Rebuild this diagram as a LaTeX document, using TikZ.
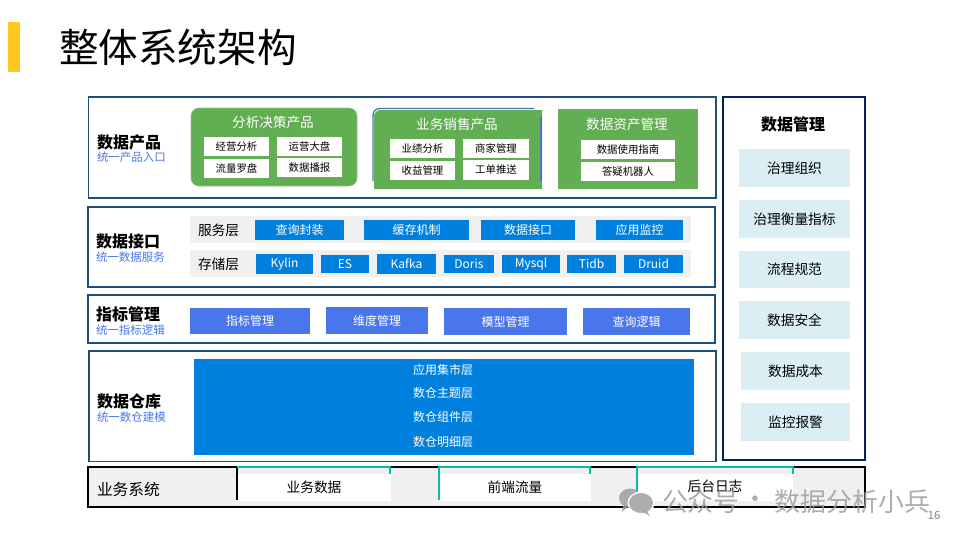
\documentclass[tikz,border=0pt]{standalone}
\usepackage{fontspec}
\setmainfont{Noto Sans CJK SC}
\definecolor{frameblue}{HTML}{1F4E79}
\definecolor{framenavy}{HTML}{002060}
\definecolor{panelgreen}{HTML}{62AE52}
\definecolor{cellblue}{HTML}{0080DE}
\definecolor{idxblue}{HTML}{4A76EC}
\definecolor{edgeblue}{HTML}{4A76B8}
\definecolor{lightcyan}{HTML}{DAEEF3}
\definecolor{rowgray}{HTML}{F0F0F0}
\definecolor{teal}{HTML}{00BFA5}
\definecolor{accent}{HTML}{FFC81E}
\newcommand{\bx}[7]{\node[#6,minimum width={(#4-#2)*0.75pt},minimum height={(#5-#3)*0.75pt}] (#1) at ({(#2+#4)/2},{(#3+#5)/2}) {#7};}
\newcommand{\dn}[1]{\raisebox{-0.7pt}{#1}}
\tikzset{
  base/.style={inner sep=0pt,outer sep=0pt},
  frame/.style={base,draw=frameblue,line width=1.2pt,fill=white},
  navyframe/.style={base,draw=framenavy,line width=1.2pt,fill=white},
  blackframe/.style={base,draw=black,line width=1.4pt,fill=rowgray},
  panel/.style={base,fill=panelgreen,text=white,font=\fontsize{10}{12}\selectfont},
  paneltitle/.style={base,text=white,font=\fontsize{10.2}{12}\selectfont},
  whitecell/.style={base,fill=white,font=\fontsize{7.8}{10}\selectfont},
  rowbar/.style={base,fill=rowgray},
  bluecell/.style={base,fill=cellblue,text=white,font=\fontsize{9}{11}\selectfont},
  idxcell/.style={base,fill=idxblue,text=white,font=\fontsize{9}{11}\selectfont},
  warebox/.style={base,fill=cellblue},
  waretext/.style={base,text=white,font=\fontsize{9}{11}\selectfont},
  mgmt/.style={base,fill=lightcyan,font=\fontsize{10.3}{12}\selectfont},
  srccell/.style={base,fill=white,font=\fontsize{10.3}{12}\selectfont},
  headline/.style={base,anchor=west,font=\fontsize{12}{14}\selectfont\bfseries},
  subline/.style={base,anchor=west,text=idxblue,font=\fontsize{8.6}{10}\selectfont},
  rowlabel/.style={base,anchor=west,font=\fontsize{10.3}{12}\selectfont},
  tealline/.style={draw=teal,line width=1pt},
  darkline/.style={draw=black,line width=1.1pt},
  watermark/.style={base,text=gray!75,opacity=.85,font=\fontsize{19.4}{22}\selectfont},
}
\begin{document}
\begin{tikzpicture}[x=0.75pt,y=-0.75pt]
\useasboundingbox[fill=white] (0,0) rectangle (960,540);
% title
\fill[accent] (8,22) rectangle (20,72);
\node[base,anchor=west,font=\fontsize{29.7}{34}\selectfont] (title) at (59,47) {整体系统架构};
% frames
\bx{fp}{88.5}{97}{716}{198}{frame}{}
\bx{fi}{88}{207}{715}{287}{frame}{}
\bx{fm}{88}{295}{715}{343}{frame}{}
\bx{fw}{89}{351}{716}{461.5}{frame}{}
\bx{fr}{723}{97}{865}{460}{navyframe}{}
% left labels
\node[headline] (l1) at (97,142) {数据产品};
\node[subline] (s1) at (97,157) {统一产品入口};
\node[headline] (l2) at (96,241) {数据接口};
\node[subline] (s2) at (96,257) {统一数据服务};
\node[headline] (l3) at (96,314) {指标管理};
\node[subline] (s3) at (96,330) {统一指标逻辑};
\node[headline] (l4) at (97,401) {数据仓库};
\node[subline] (s4) at (97,417) {统一数仓建模};
% panel 1
\node[base,fill=panelgreen,draw=panelgreen!70!white,line width=0.5pt,rounded corners=6pt,minimum width=124.5pt,minimum height=58.5pt] (p1) at (274,147) {};
\node[paneltitle] (p1t) at (273,122) {分析决策产品};
\bx{c11}{204}{137}{269}{156}{whitecell}{经营分析}
\bx{c12}{277}{137}{342}{156}{whitecell}{运营大盘}
\bx{c13}{204}{159}{269}{178}{whitecell}{流量罗盘}
\bx{c14}{277}{158}{342}{177}{whitecell}{数据播报}
% panel 2
\fill[panelgreen] (542,189) -- (374,189) [rounded corners=5pt] -- (374,110) [sharp corners] -- (542,110) -- cycle;
\draw[edgeblue,line width=1pt,rounded corners=5pt] (373,181) -- (373,108.5) -- (534,108.5);
\draw[edgeblue,line width=1pt] (541,117) -- (541,181);
\node[paneltitle] (p2t) at (457,124) {业务销售产品};
\bx{c21}{390}{139}{455}{158}{whitecell}{业绩分析}
\bx{c22}{463}{139}{529}{158}{whitecell}{商家管理}
\bx{c23}{390}{161}{455}{180}{whitecell}{收益管理}
\bx{c24}{463}{160}{529}{180}{whitecell}{工单推送}
% panel 3
\bx{p3}{558}{109}{698}{189}{panel}{}
\node[paneltitle] (p3t) at (627,124) {数据资产管理};
\bx{c31}{581}{140}{675}{159}{whitecell}{数据使用指南}
\bx{c32}{581}{162}{675}{181}{whitecell}{答疑机器人}
% interface rows
\bx{r1}{190}{216}{691}{243}{rowbar}{}
\bx{r2}{190}{250}{691}{277}{rowbar}{}
\node[rowlabel] (r1t) at (198,230) {服务层};
\node[rowlabel] (r2t) at (198,264) {存储层};
\bx{a1}{255}{220}{344}{240}{bluecell}{查询封装}
\bx{a2}{364}{220}{469}{240}{bluecell}{缓存机制}
\bx{a3}{481}{220}{575}{240}{bluecell}{数据接口}
\bx{a4}{596}{220}{683}{240}{bluecell}{应用监控}
\bx{b1}{256}{254}{313}{274}{bluecell}{Kylin}
\bx{b2}{321}{255}{369}{273}{bluecell}{ES}
\bx{b3}{377}{254}{436}{274}{bluecell}{Kafka}
\bx{b4}{444}{255}{494}{273}{bluecell}{Doris}
\bx{b5}{502}{255}{560}{273}{bluecell}{Mysql}
\bx{b6}{567}{255}{616}{273}{bluecell}{Tidb}
\bx{b7}{624}{255}{683}{273}{bluecell}{Druid}
% metric cells
\bx{m1}{190}{308}{310}{334}{idxcell}{\dn{指标管理}}
\bx{m2}{326}{307}{428}{334}{idxcell}{维度管理}
\bx{m3}{444}{308}{567}{335}{idxcell}{模型管理}
\bx{m4}{583}{308}{690}{335}{idxcell}{查询逻辑}
% warehouse
\bx{w0}{194}{359}{694}{455}{warebox}{}
\node[waretext] (w1) at (443,369.5) {应用集市层};
\node[waretext] (w2) at (443,393) {数仓主题层};
\node[waretext] (w3) at (443,417) {数仓组件层};
\node[waretext] (w4) at (443,441.5) {数仓明细层};
% governance
\node[base,font=\fontsize{12}{14}\selectfont\bfseries] (gt) at (793,124) {数据管理};
\bx{g1}{739}{149}{850}{187}{mgmt}{\dn{治理组织}}
\bx{g2}{739}{200}{850}{238}{mgmt}{\dn{治理衡量指标}}
\bx{g3}{739}{251}{850}{288}{mgmt}{\dn{流程规范}}
\bx{g4}{739}{301}{850}{339}{mgmt}{\dn{数据安全}}
\bx{g5}{741}{352}{850}{390}{mgmt}{\dn{数据成本}}
\bx{g6}{741}{403}{850}{441}{mgmt}{\dn{监控报警}}
% source systems
\bx{fs}{88}{467}{865}{507}{blackframe}{}
\node[base,anchor=west,font=\fontsize{11.8}{14}\selectfont] (st) at (97,489.5) {业务系统};
\bx{e1}{237}{474}{391}{501}{srccell}{业务数据}
\bx{e2}{439}{474}{591}{501}{srccell}{前端流量}
\bx{e3}{637}{474}{793}{501}{srccell}{}
\node[base,font=\fontsize{10.3}{12}\selectfont] (e3t) at (715,486.5) {后台日志};
\draw[darkline] (237,467) -- (237,500);
\draw[tealline] (237,467) -- (390,467) -- (390,474);
\draw[tealline] (439,500) -- (439,467) -- (590,467) -- (590,474);
\draw[tealline] (637,500) -- (637,467) -- (793,467) -- (793,474);
% watermark
\fill[gray!75,opacity=.85] (630,498) ellipse (11 and 9.5);
\fill[gray!75,opacity=.85] (623,506) -- (622,512) -- (628,507) -- cycle;
\fill[white] (641,503) ellipse (13.5 and 11.5);
\fill[gray!75,opacity=.85] (641,503) ellipse (12 and 10);
\fill[gray!75,opacity=.85] (647,511) -- (650,516) -- (643,512) -- cycle;
\node[watermark,anchor=west] (wm1) at (662,502) {公众号};
\node[watermark] (wmd) at (755,502) {·};
\node[watermark,anchor=east] (wm2) at (930,502) {数据分析小兵};
\node[base,text=gray,font=\fontsize{8.4}{10}\selectfont] (pg) at (934,515) {16};
\end{tikzpicture}
\end{document}
